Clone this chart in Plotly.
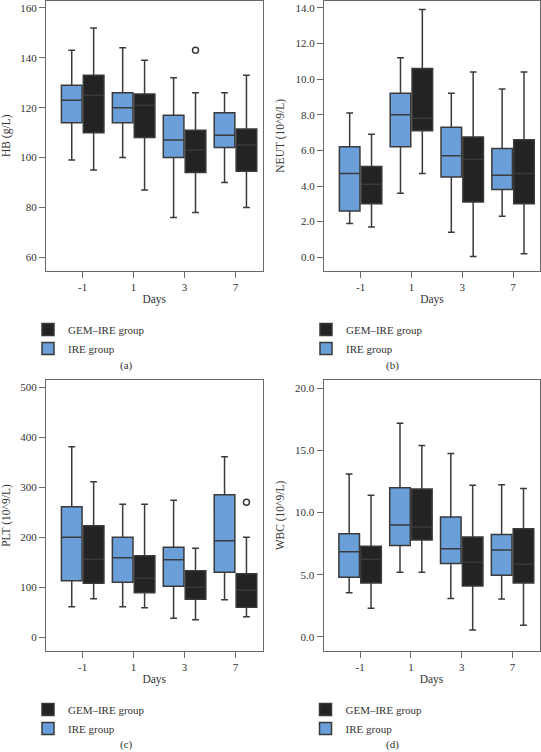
import plotly.graph_objects as go

# ---------------- data ----------------
days = ["-1", "1", "3", "7"]

hb_ire_low = [99, 100, 76, 90]
hb_ire_q1 = [114, 114, 100, 104]
hb_ire_med = [123, 120, 107, 109]
hb_ire_q3 = [129, 126, 117, 118]
hb_ire_up = [143, 144, 132, 126]
hb_gem_low = [95, 87, 78, 80]
hb_gem_q1 = [110, 108, 94, 94.5]
hb_gem_med = [125, 121, 103, 105]
hb_gem_q3 = [133, 125.5, 111, 111.5]
hb_gem_up = [152, 139, 126, 133]
hb_gem_out_day = ["3"]
hb_gem_out_val = [143]

neut_ire_low = [1.9, 3.6, 1.4, 2.3]
neut_ire_q1 = [2.6, 6.2, 4.5, 3.8]
neut_ire_med = [4.7, 8.0, 5.7, 4.6]
neut_ire_q3 = [6.2, 9.2, 7.3, 6.1]
neut_ire_up = [8.1, 11.2, 9.2, 9.45]
neut_gem_low = [1.7, 4.7, 0.05, 0.2]
neut_gem_q1 = [3.0, 7.1, 3.1, 3.0]
neut_gem_med = [4.1, 7.8, 5.5, 4.7]
neut_gem_q3 = [5.1, 10.6, 6.75, 6.6]
neut_gem_up = [6.9, 13.9, 10.4, 10.4]

plt_ire_low = [61, 61, 38, 75]
plt_ire_q1 = [113, 110, 102, 130]
plt_ire_med = [200, 159, 155, 193]
plt_ire_q3 = [261, 200, 180, 285]
plt_ire_up = [381, 266, 274, 361]
plt_gem_low = [77, 59, 35, 41]
plt_gem_q1 = [108, 89, 76, 60]
plt_gem_med = [156, 118, 100, 94]
plt_gem_q3 = [223, 163, 133, 127]
plt_gem_up = [311, 266, 178, 200]
plt_gem_out_day = ["7"]
plt_gem_out_val = [270]

wbc_ire_low = [3.55, 5.2, 3.1, 3.05]
wbc_ire_q1 = [4.8, 7.35, 5.9, 4.96]
wbc_ire_med = [6.85, 9.0, 7.1, 7.0]
wbc_ire_q3 = [8.3, 12.0, 9.65, 8.25]
wbc_ire_up = [13.1, 17.2, 14.75, 12.25]
wbc_gem_low = [2.3, 5.2, 0.55, 0.95]
wbc_gem_q1 = [4.35, 7.8, 4.1, 4.35]
wbc_gem_med = [6.25, 8.85, 6.0, 5.85]
wbc_gem_q3 = [7.3, 11.9, 8.05, 8.7]
wbc_gem_up = [11.4, 15.4, 12.2, 11.95]

hb_ticks = [60, 80, 100, 120, 140, 160]
neut_ticks = [0, 2, 4, 6, 8, 10, 12, 14]
plt_ticks = [0, 100, 200, 300, 400, 500]
wbc_ticks = [0, 5, 10, 15, 20]

# ---------------- style ----------------
W, H = 541, 752
FONT = "Liberation Serif"
BLUE = "#6a9fd9"
DARK = "#232323"
LINE = "#3a3a3a"
FRAME = "#6a6a6a"
TXT = "#333333"
OFF = 0.215
BW = 0.405

fig = go.Figure()

panels = [
    dict(ax="", leg="legend", title="HB (g/L)", ticks=hb_ticks, fmt="d", yr=[54.5, 163],
         ire=(hb_ire_low, hb_ire_q1, hb_ire_med, hb_ire_q3, hb_ire_up),
         gem=(hb_gem_low, hb_gem_q1, hb_gem_med, hb_gem_q3, hb_gem_up),
         out=(hb_gem_out_day, hb_gem_out_val), px=(46, 262.5, 0.5, 271)),
    dict(ax="2", leg="legend2", title="NEUT (10^9/L)", ticks=neut_ticks, fmt=".1f", yr=[-0.77, 14.41],
         ire=(neut_ire_low, neut_ire_q1, neut_ire_med, neut_ire_q3, neut_ire_up),
         gem=(neut_gem_low, neut_gem_q1, neut_gem_med, neut_gem_q3, neut_gem_up),
         out=None, px=(324, 540, 0.5, 271)),
    dict(ax="3", leg="legend3", title="PLT (10^9/L)", ticks=plt_ticks, fmt="d", yr=[-27.4, 514.7],
         ire=(plt_ire_low, plt_ire_q1, plt_ire_med, plt_ire_q3, plt_ire_up),
         gem=(plt_gem_low, plt_gem_q1, plt_gem_med, plt_gem_q3, plt_gem_up),
         out=(plt_gem_out_day, plt_gem_out_val), px=(46, 262.5, 380, 651)),
    dict(ax="4", leg="legend4", title="WBC (10^9/L)", ticks=wbc_ticks, fmt=".1f", yr=[-1.13, 20.67],
         ire=(wbc_ire_low, wbc_ire_q1, wbc_ire_med, wbc_ire_q3, wbc_ire_up),
         gem=(wbc_gem_low, wbc_gem_q1, wbc_gem_med, wbc_gem_q3, wbc_gem_up),
         out=None, px=(323.5, 539.5, 380, 651)),
]

idx = list(range(len(days)))
layout = {}
for p in panels:
    xa, ya = "x" + p["ax"], "y" + p["ax"]
    for name, stats, color, sign in [("GEM\u2013IRE group", p["gem"], DARK, 1),
                                      ("IRE group", p["ire"], BLUE, -1)]:
        lo, q1, md, q3, up = stats
        fig.add_trace(go.Box(
            x=[i + sign * OFF for i in idx], lowerfence=lo, q1=q1, median=md, q3=q3, upperfence=up,
            width=BW, fillcolor=color, line=dict(color=LINE, width=1.5), whiskerwidth=0.33,
            boxpoints=False, name=name, xaxis=xa, yaxis=ya, legend=p["leg"], hoverinfo="y"))
    if p["out"]:
        od, ov = p["out"]
        fig.add_trace(go.Scatter(
            x=[days.index(d) + OFF for d in od], y=ov, mode="markers",
            marker=dict(symbol="circle-open", size=6, color=LINE, line=dict(width=1.5)),
            showlegend=False, xaxis=xa, yaxis=ya))
    x0, x1, y0, y1 = p["px"]
    axis_common = dict(showline=True, linecolor=FRAME, linewidth=1, mirror=True, showgrid=False,
                       zeroline=False, ticks="outside", ticklen=6, tickcolor=FRAME, tickwidth=1,
                       tickfont=dict(family=FONT, size=11, color=TXT), automargin=False)
    layout["xaxis" + p["ax"]] = dict(axis_common, domain=[x0 / W, x1 / W], range=[-0.72, 3.53],
                                     tickvals=idx, ticktext=days, anchor=ya,
                                     title=dict(text="Days", font=dict(family=FONT, size=11.5, color=TXT), standoff=2))
    layout["yaxis" + p["ax"]] = dict(axis_common, domain=[1 - y1 / H, 1 - y0 / H], range=p["yr"],
                                     tickvals=p["ticks"], tickformat=p["fmt"], anchor=xa,
                                     title=dict(text=p["title"], font=dict(family=FONT, size=11.5, color=TXT), standoff=8))
    leg_x = (x0 - 18) / W
    leg_top = (y1 + 44) / H
    layout[p["leg"]] = dict(x=leg_x, y=1 - leg_top, xanchor="left", yanchor="top",
                            font=dict(family=FONT, size=11, color=TXT), bgcolor="rgba(0,0,0,0)",
                            traceorder="normal", borderwidth=0, itemclick=False, itemdoubleclick=False)

labels = ["(a)", "(b)", "(c)", "(d)"]
label_pos = [(126, 365), (392, 365), (126, 744), (392, 744)]
annotations = [dict(text=t, x=lx / W, y=1 - ly / H, xref="paper", yref="paper", showarrow=False,
                    xanchor="center", yanchor="middle", font=dict(family=FONT, size=11, color=TXT))
               for t, (lx, ly) in zip(labels, label_pos)]

fig.update_layout(width=W, height=H, margin=dict(l=0, r=0, t=0, b=0), paper_bgcolor="white",
                  plot_bgcolor="white", boxmode="overlay", annotations=annotations,
                  font=dict(family=FONT, size=11, color=TXT), **layout)

fig.write_html("out.html", config={"displayModeBar": False},
               post_script="document.body.style.margin='0';document.body.style.overflow='hidden';")
